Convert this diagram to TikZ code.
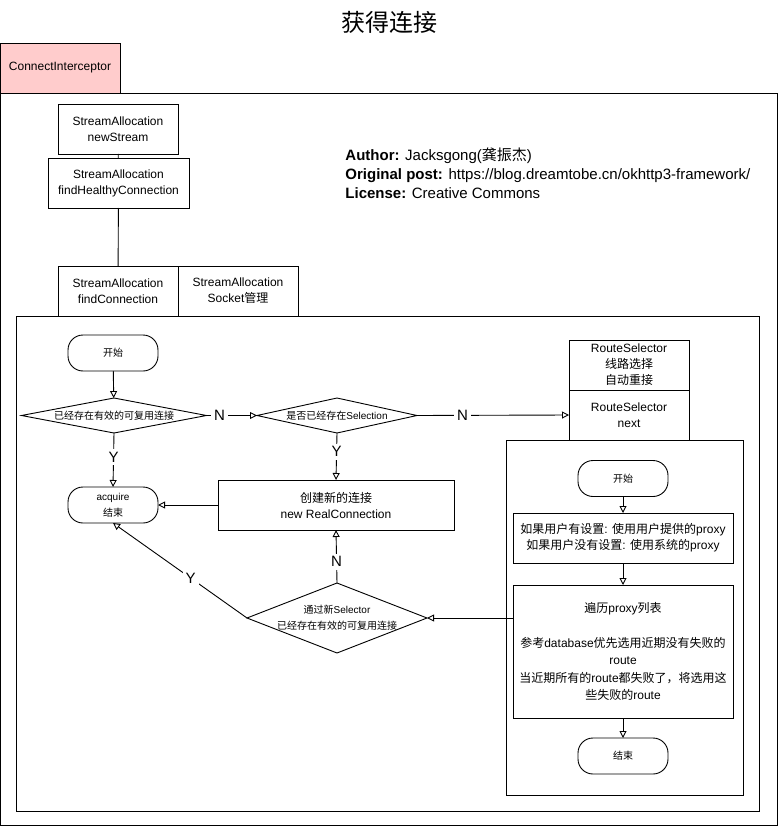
\documentclass[tikz,border=0pt]{standalone}
\usepackage{fontspec}
\setmainfont{Liberation Sans}
\newfontfamily\cjk{Noto Sans CJK SC}
\newcommand\zh[1]{{\cjk #1}}
\usetikzlibrary{shapes.geometric,arrows.meta}
\definecolor{pinkfill}{HTML}{FFCCCC}
\tikzset{
  x=1pt,y=-1pt,
  every path/.style={line width=0.9pt},
  box/.style={draw,minimum width=120pt,minimum height=50pt,inner sep=0pt,outer sep=0pt,align=center,font=\fontsize{12}{16}\selectfont},
  term/.style={draw,rounded corners=15pt,minimum width=90pt,minimum height=36pt,inner sep=0pt,outer sep=0pt,align=center,font=\fontsize{10}{16}\selectfont},
  dia/.style={draw,diamond,inner sep=0pt,outer sep=0pt},
  diatext/.style={align=center,font=\fontsize{10}{16}\selectfont},
  arr/.style={-{Triangle[open,length=7pt,width=7pt]}},
  lbl/.style={fill=white,inner sep=3pt,font=\fontsize{15}{15}\selectfont},
  frame/.style={draw,line width=0.9pt}
}
\begin{document}
\begin{tikzpicture}
\useasboundingbox (0,0) rectangle (778,826);
% title
\node[font=\cjk\fontsize{24}{24}\selectfont] (title) at (389,22) {获得连接};
% outer container
\draw[frame] (0.5,93) rectangle (777,825);
\node[box,fill=pinkfill,minimum width=120pt] (ci) at (60,68) {ConnectInterceptor};
% top boxes
\node[box] (ns) at (118,129) {StreamAllocation\\newStream};
\node[box,minimum width=141pt] (fhc) at (118.5,183) {StreamAllocation\\findHealthyConnection};
\node[box] (fc) at (118,291) {StreamAllocation\\findConnection};
\node[box] (sock) at (238,291) {StreamAllocation\\Socket\zh{管理}};
\draw (ns) -- (fhc);
\draw (fhc) -- (fc);
% author
\node[anchor=north west,align=left,inner sep=0pt,font=\fontsize{15}{19}\selectfont] (auth) at (345,147)
 {\textbf{Author:} Jacksgong(\zh{龚振杰})\\\textbf{Original post:} https://blog.dreamtobe.cn/okhttp3-framework/\\\textbf{License:} Creative Commons};
% middle container
\draw[frame] (16,316) rectangle (759,811);
% flow
\node[term] (s1) at (113,353) {\zh{开始}};
\node[dia,minimum width=185pt,minimum height=35pt] (d1) at (114,415.5) {};
\node[diatext] at (d1) {\zh{已经存在有效的可复用连接}};
\node[dia,minimum width=160pt,minimum height=35pt] (d2) at (337,415.5) {};
\node[diatext] at (d2) {\zh{是否已经存在}Selection};
\node[box] (rs1) at (629,365) {RouteSelector\\\zh{线路选择}\\\zh{自动重接}};
\node[box] (rs2) at (629,415) {RouteSelector\\next};
\node[term] (acq) at (113,505) {acquire\\\zh{结束}};
\node[box,minimum width=236pt] (cr) at (336,505) {\zh{创建新的连接}\\new RealConnection};
\node[dia,minimum width=180pt,minimum height=70pt] (d3) at (337,618) {};
\node[diatext] at (d3) {\zh{通过新}Selector\\\zh{已经存在有效的可复用连接}};
% right container
\draw[frame] (506,440) rectangle (743,795);
\node[term] (s2) at (623,478.5) {\zh{开始}};
\node[box,minimum width=220pt] (px) at (623,538) {\zh{如果用户有设置}: \zh{使用用户提供的}proxy\\\zh{如果用户没有设置}: \zh{使用系统的}proxy};
\node[box,minimum width=220pt,minimum height=133pt,font=\fontsize{12}{17.5}\selectfont] (tr) at (623,651.5)
 {\zh{遍历}proxy\zh{列表}\\[17.5pt]\zh{参考}database\zh{优先选用近期没有失败的}\\route\\\zh{当近期所有的}route\zh{都失败了，将选用这}\\\zh{些失败的}route};
\node[term] (e2) at (623,756) {\zh{结束}};
% connectors
\draw[arr] (s1) -- (d1);
\draw[arr] (d1.east) -- node[lbl,pos=0.26]{N} (d2.west);
\draw[arr] (d2.east) -- node[lbl,pos=0.3]{N} (rs2.west);
\draw[arr] (d1.south) -- node[lbl,pos=0.45]{Y} (acq.north);
\draw[arr] (d2.south) -- node[lbl,pos=0.4]{Y} (cr.north);
\draw[arr] (cr.west) -- (acq.east);
\draw[arr] (d3.north) -- node[lbl,pos=0.4]{N} (cr.south);
\draw[arr] (d3.west) -- node[lbl,pos=0.42]{Y} (acq.south);
\draw[arr] (tr.west |- d3.east) -- (d3.east);
\draw[arr] (s2) -- (px);
\draw[arr] (px) -- (tr);
\draw[arr] (tr) -- (e2);
\end{tikzpicture}
\end{document}
